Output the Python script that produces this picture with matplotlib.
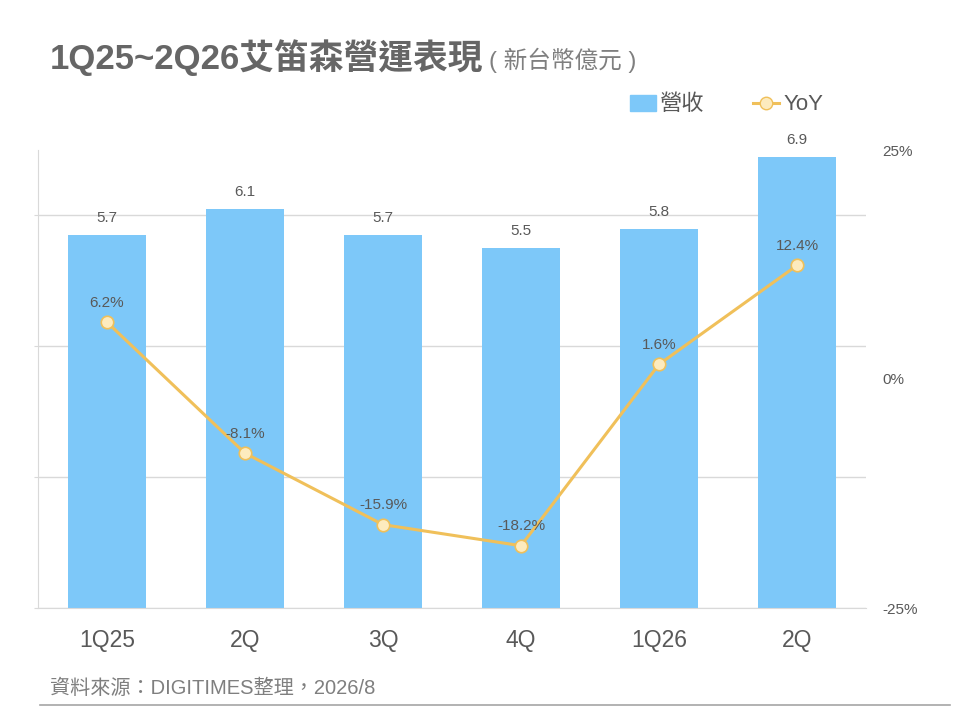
import matplotlib
matplotlib.use('Agg')
import matplotlib.pyplot as plt
from matplotlib.lines import Line2D
from matplotlib.patches import Patch

plt.rcParams['font.family'] = ['Liberation Sans', 'Noto Sans CJK TC', 'DejaVu Sans']

quarters = ['1Q25', '2Q', '3Q', '4Q', '1Q26', '2Q']
revenue = [5.7, 6.1, 5.7, 5.5, 5.8, 6.9]
yoy = [6.2, -8.1, -15.9, -18.2, 1.6, 12.4]

bar_color = '#7DC8F9'
line_color = '#F0C05A'
marker_face = '#FDEBBE'
text_grey = '#595959'

fig = plt.figure(figsize=(9.6, 7.2), dpi=100)
ax = fig.add_axes([38 / 960, 112 / 720, 828 / 960, 458 / 720])
x = list(range(len(quarters)))

ax.bar(x, revenue, width=0.57, color=bar_color, zorder=2)
ax.set_xlim(-0.5, 5.5)
ax.set_ylim(0, 7)
ax.set_yticks([0, 2, 4, 6])
ax.set_yticklabels([])
ax.tick_params(axis='y', length=3, color='#d9d9d9')
ax.tick_params(axis='x', length=0, pad=15, labelsize=16.5, labelcolor=text_grey)
ax.set_xticks(x)
ax.set_xticklabels(quarters)
ax.grid(axis='y', color='#d9d9d9', lw=1, zorder=0)
ax.set_axisbelow(True)
for s in ['top', 'right']:
    ax.spines[s].set_visible(False)
ax.spines['left'].set_color('#d9d9d9')
ax.spines['bottom'].set_color('#d9d9d9')

for xi, v in zip(x, revenue):
    ax.annotate(f'{v:.1f}', (xi, v), xytext=(0, 7), textcoords='offset points',
                ha='center', va='bottom', fontsize=11, color=text_grey)

ax2 = ax.twinx()
ax2.plot(x, yoy, color=line_color, lw=2.2, marker='o', ms=9,
         mfc=marker_face, mec=line_color, mew=1.2, zorder=3)
ax2.set_ylim(-25, 25)
ax2.set_yticks([-25, 0, 25])
ax2.set_yticklabels(['-25%', '0%', '25%'])
ax2.tick_params(axis='y', length=0, pad=12, labelsize=11, labelcolor=text_grey)
for s in ax2.spines.values():
    s.set_visible(False)

for xi, v in zip(x, yoy):
    ax2.annotate(f'{v:.1f}%', (xi, v), xytext=(0, 9), textcoords='offset points',
                 ha='center', va='bottom', fontsize=11, color=text_grey)

fig.text(50 / 960, 1 - 58 / 720, '1Q25~2Q26艾笛森營運表現', fontsize=25,
         fontweight='bold', color='#666666', va='center', ha='left')
fig.text(489 / 960, 1 - 60 / 720, '( 新台幣億元 )', fontsize=17,
         color='#7f7f7f', va='center', ha='left')

handles = [Patch(color=bar_color),
           Line2D([], [], color=line_color, lw=2.2, marker='o', ms=9,
                  mfc=marker_face, mec=line_color)]
fig.legend(handles, ['營收', 'YoY'], loc='center left',
           bbox_to_anchor=(610 / 960, 1 - 105 / 720), ncol=2, frameon=False,
           fontsize=16, labelcolor=text_grey, columnspacing=2.2,
           handlelength=1.15, handletextpad=0.2)

fig.text(50 / 960, 1 - 688 / 720, '資料來源：DIGITIMES整理，2026/8', fontsize=14.5,
         color='#7f7f7f', va='center', ha='left')
fig.add_artist(Line2D([40 / 960, 950 / 960], [1 - 705 / 720, 1 - 705 / 720],
                      color='#a6a6a6', lw=1.2))

fig.savefig('out.png', dpi=100)
